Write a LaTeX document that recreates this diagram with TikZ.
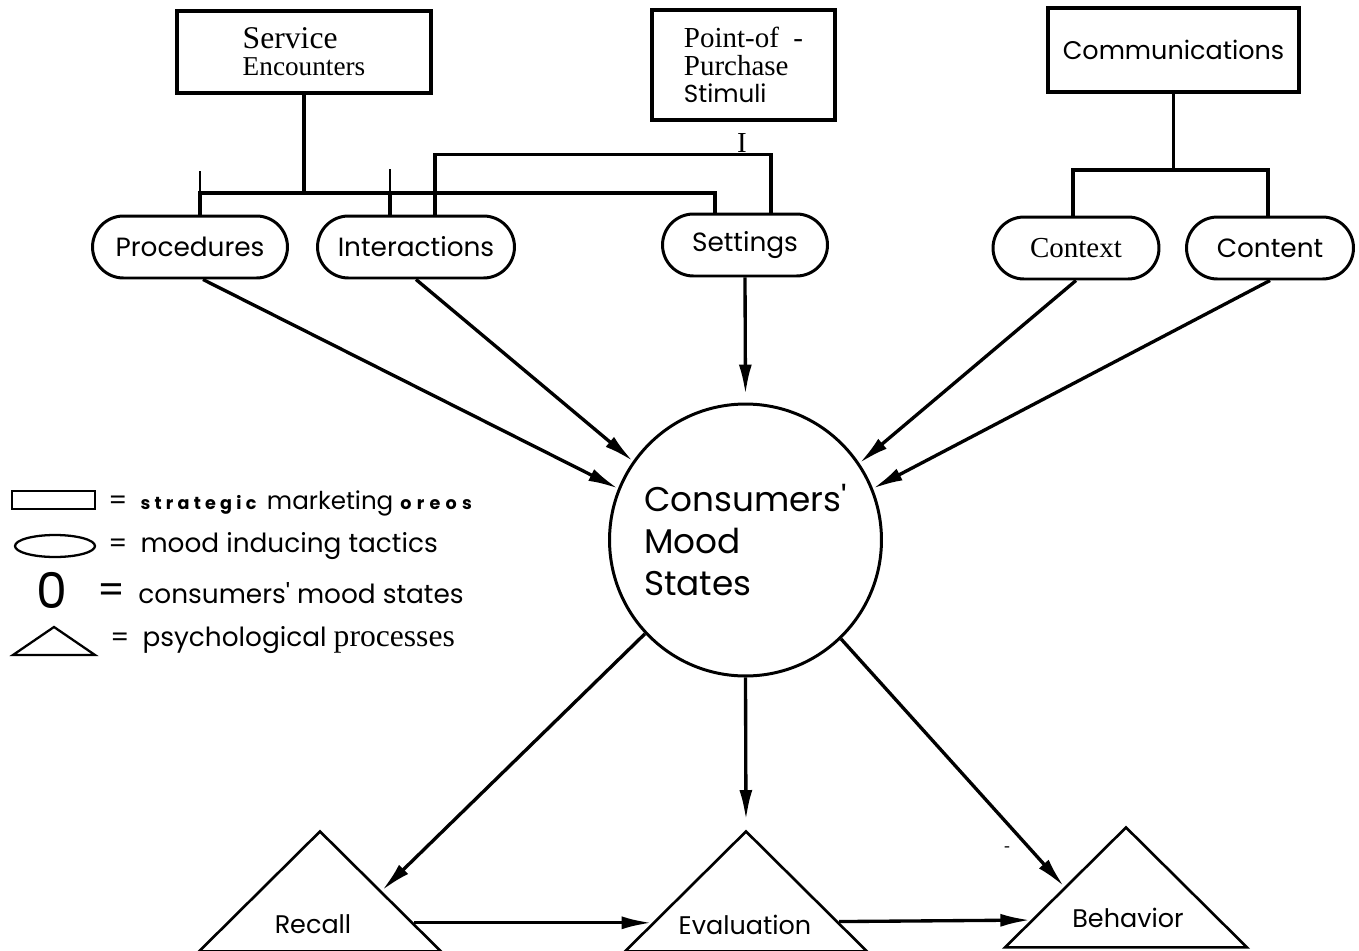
\documentclass[tikz,border=0pt]{standalone}
\usepackage{fontspec}
\setmainfont{Liberation Serif}
\newfontfamily\plotfont{Poppins}
\usetikzlibrary{positioning,calc}
\usetikzlibrary{arrows.meta}
\usetikzlibrary{shapes}
\tikzset{
        % Strategic marketing areas
        node_area/.style={rectangle, draw=black, line width=2.2pt, inner sep=0pt, align=left},
        % Mood inducing tactics
        node_tactic/.style={rounded rectangle, draw=black, line width=1.7pt, minimum height=1.24cm, inner sep=0pt, font=\plotfont\fontsize{15}{18}\selectfont},
        % Consumers' mood states
        node_mood/.style={circle, draw=black, line width=1.7pt, minimum size=5.44cm, inner sep=0pt, align=left, font=\plotfont\fontsize{19.5}{24}\selectfont},
        % Psychological processes
        node_process/.style={isosceles triangle, isosceles triangle stretches, shape border rotate=90, draw=black, line width=1.5pt, minimum width=4.84cm, minimum height=2.4cm, inner sep=0pt, anchor=apex},
        process_text/.style={inner sep=0pt, font=\plotfont\fontsize{14.5}{17}\selectfont},
        key_text/.style={anchor=west, inner sep=0pt, font=\plotfont\fontsize{15}{18}\selectfont},
        bus/.style={line width=2pt},
        tick/.style={line width=0.6pt},
        link/.style={line width=1.9pt, -{Latex[length=0.6cm,width=0.26cm]}}
}
\begin{document}
\begin{tikzpicture}[x=0.02cm, y=-0.02cm]
    \useasboundingbox (0,0) rectangle (1359,950);
    % strategic marketing areas
    \node[node_area, minimum width=5.08cm, minimum height=1.64cm, font=\fontsize{15.5}{15.5}\selectfont] (se) at (304,52)
        {{\fontsize{18}{15.5}\selectfont Service}\\Encounters};
    \node[node_area, minimum width=3.66cm, minimum height=2.2cm, font=\fontsize{16.5}{15.5}\selectfont] (pop) at (743.5,65)
        {Point-of\enspace -\\Purchase\\{\plotfont\fontsize{14}{15.5}\selectfont Stimuli}};
    \node[node_area, minimum width=5.02cm, minimum height=1.68cm, font=\plotfont\fontsize{14.5}{17}\selectfont] (com) at (1173.5,50) {\raisebox{-2pt}{Communications}};
    \node[inner sep=0pt, font=\fontsize{16.5}{17}\selectfont] (popmark) at (742,143) {I};

    % mood inducing tactics
    \node[node_tactic, minimum width=3.9cm] (proc) at (190,247) {Procedures};
    \node[node_tactic, minimum width=3.94cm] (int) at (416,247) {Interactions};
    \node[node_tactic, minimum width=3.3cm] (set) at (745,245) {Settings};
    \node[node_tactic, minimum width=3.32cm, font=\fontsize{16.5}{18}\selectfont] (ctx) at (1076,248) {Context};
    \node[node_tactic, minimum width=3.34cm] (cnt) at (1270,248) {Content};

    % mood states
    \node[node_mood] (mood) at (745.5,540) {Consumers\textquotesingle\\Mood\\States};

    % psychological processes
    \node[node_process] (rec) at (320,828) {};
    \node[node_process] (eva) at (746,828) {};
    \node[node_process] (beh) at (1126,824) {};
    \node[process_text] (reclab) at ($(rec.lower side)+(-7,-29)$) {Recall};
    \node[process_text] (evalab) at ($(eva.lower side)+(-1,-28)$) {Evaluation};
    \node[process_text] (behlab) at ($(beh.lower side)+(2,-31)$) {Behavior};
    \node[inner sep=0pt, font=\fontsize{10}{10}\selectfont] (behmark) at (1007,849) {-};

    % area -> tactic brackets
    \coordinate (sejoin) at (se.south |- 0,193);
    \draw[bus] (se.south) -- (sejoin);
    \draw[bus] ($(proc.north)+(10,0)$) |- (sejoin) -| ($(set.north)+(-30,0)$);
    \draw[bus] ($(int.north)+(-26,0)$) -- ++(0,-23);
    \draw[tick] ($(proc.north)+(10,0)$) -- ++(0,-44);
    \draw[tick] ($(int.north)+(-26,0)$) -- ++(0,-46);
    \draw[bus] ($(set.north)+(26,0)$) -- ++(0,-58) -| ($(int.north)+(19,0)$);
    \coordinate (comjoin) at (com.south |- 0,170);
    \draw[bus] (com.south) -- (comjoin);
    \draw[bus] ($(ctx.north)+(-3,0)$) |- (comjoin) -| ($(cnt.north)+(-2,0)$);

    % tactics -> mood
    \draw[link] ($(proc.south)+(13,0)$) -- (mood.158);
    \draw[link] (int.south) -- (mood.145);
    \draw[link, shorten >=0.16cm] (set.south) -- (mood.north);
    \draw[link] (ctx.south) -- (mood.34);
    \draw[link] (cnt.south) -- (mood.22);

    % mood -> processes
    \draw[link] (mood.-137) -- (rec.right side);
    \draw[link, shorten >=0.16cm] (mood.south) -- (eva.apex);
    \draw[link] (mood.-46) -- (beh.left side);
    \draw[link] ($(rec.apex)!0.76!(rec.right corner)$) -- ($(eva.apex)!0.76!(eva.left corner)$);
    \draw[link] ($(eva.apex)!0.75!(eva.right corner)$) -- ($(beh.apex)!0.77!(beh.left corner)$);

    % key
    \node[rectangle, draw=black, line width=1.3pt, minimum width=1.66cm, minimum height=0.36cm, inner sep=0pt] (keyarea) at (53.5,500) {};
    \node[ellipse, draw=black, line width=1.3pt, minimum width=1.6cm, minimum height=0.44cm, inner sep=0pt] (keytactic) at (55,546) {};
    \node[inner sep=0pt, font=\plotfont\fontsize{28}{28}\selectfont] (keymood) at (52,590) {0};
    \node[isosceles triangle, isosceles triangle stretches, shape border rotate=90, draw=black, line width=1.3pt, minimum width=1.64cm, minimum height=0.56cm, inner sep=0pt, anchor=apex] (keyprocess) at (54,624) {};
    \node[key_text] (keyareatext) at (108,503)
        {=\enspace{\bfseries\addfontfeature{LetterSpace=24}\fontsize{10}{10}\selectfont strategic}\hspace{6pt}{\fontsize{14}{14}\selectfont marketing}\hspace{4pt}{\bfseries\addfontfeature{LetterSpace=30}\fontsize{10}{10}\selectfont oreos}};
    \node[key_text] (keytactictext) at (108,546) {=\enspace mood inducing tactics};
    \node[key_text] (keymoodtext) at (97,593) {{\fontsize{22}{22}\selectfont =}\enspace consumers\textquotesingle\ mood states};
    \node[key_text] (keyprocesstext) at (110,640) {=\enspace psychological {\rmfamily\fontsize{18}{18}\selectfont processes}};
\end{tikzpicture}
\end{document}
